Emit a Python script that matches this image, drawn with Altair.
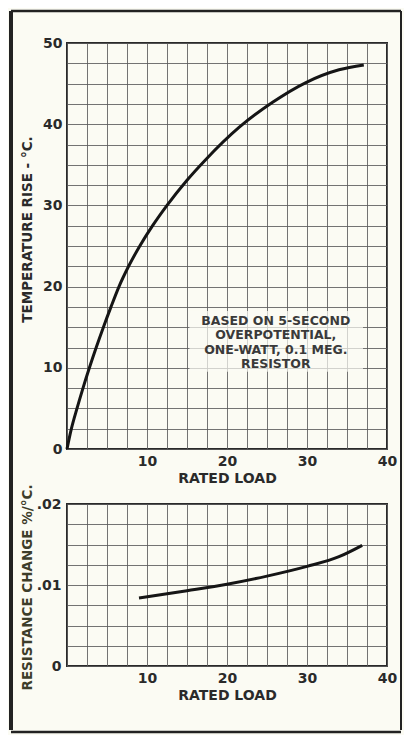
import altair as alt
import pandas as pd

# ---- data ----
load_top = [0, 0.55, 1.25, 2.0, 2.8, 3.65, 4.55, 5.5, 6.5, 7.7, 9.1, 10.7, 12.5, 15, 17.3,
            21.5, 25.7, 29.8, 34, 37.1]
temp_rise = [0, 2.5, 5, 7.5, 10, 12.5, 15, 17.5, 20, 22.5, 25, 27.5, 30, 33.1, 35.6,
             39.6, 42.7, 45.1, 46.7, 47.3]

load_bot = [9, 15, 20, 25, 30, 34, 36.9]
res_change = [0.0084, 0.0093, 0.0101, 0.0111, 0.0123, 0.0135, 0.0149]

x_ticks = [i * 2.5 for i in range(17)]
y_ticks_top = [i * 2.5 for i in range(21)]
y_ticks_bot = [i * 0.0025 for i in range(9)]

note_lines = ["BASED ON 5-SECOND", "OVERPOTENTIAL,", "ONE-WATT, 0.1 MEG.", "RESISTOR"]
note_x = [26.1]
note_y = [15.8]

BG = "#fbfbf3"
INK = "#2a2a2a"
GRID = "#5a5a5a"
FONT = "DejaVu Sans"

W = 320
H1 = 406
H2 = 162

top_df = pd.DataFrame({"load": load_top, "rise": temp_rise})
bot_df = pd.DataFrame({"load": load_bot, "res": res_change})
note_df = pd.DataFrame({"load": note_x, "rise": note_y, "t": ["\n".join(note_lines)]})
one = alt.Data(values=[{"k": 1}])

x_label_expr = "datum.value % 10 == 0 && datum.value > 0 ? datum.label : ''"

def x_axis():
    return alt.Axis(values=x_ticks, labelExpr=x_label_expr, ticks=False, domain=False,
                    grid=True, gridColor=GRID, gridOpacity=0.85, gridWidth=1,
                    labelFont=FONT, labelFontSize=14, labelFontWeight="bold", labelColor=INK,
                    labelPadding=5, title="RATED LOAD", titleFont=FONT, titleFontSize=14,
                    titleFontWeight="bold", titleColor=INK, titlePadding=3, labelFlush=False)

def y_axis_top():
    return alt.Axis(values=y_ticks_top,
                    labelExpr="datum.value % 10 == 0 ? datum.label : ''",
                    ticks=False, domain=False, grid=True, gridColor=GRID, gridOpacity=0.85,
                    gridWidth=1, labelFont=FONT, labelFontSize=14, labelFontWeight="bold",
                    labelColor=INK, labelPadding=5,
                    title="TEMPERATURE RISE - °C.", titleFont=FONT, titleFontSize=13.5,
                    titleFontWeight="bold", titleColor=INK, titleX=-40, titleY=186,
                    titleAlign="center", titleBaseline="middle", titleAngle=270)

x_scale = alt.Scale(domain=[0, 40], nice=False, zero=False)
y_scale_top = alt.Scale(domain=[0, 50], nice=False)

top_line = alt.Chart(top_df).mark_line(color="#151515", strokeWidth=3, interpolate="monotone").encode(
    x=alt.X("load:Q", scale=x_scale, axis=x_axis()),
    y=alt.Y("rise:Q", scale=y_scale_top, axis=y_axis_top()),
)

note_bg = alt.Chart(one).mark_rect(fill=BG, opacity=0.7).encode(
    x=alt.value(8 * 15.3), x2=alt.value(8 * 37.0),
    y=alt.value(H1 - 8.12 * 17.0), y2=alt.value(H1 - 8.12 * 9.5),
)

note = alt.Chart(note_df).mark_text(font=FONT, fontSize=12.5, fontWeight="bold", color="#3a3a3a",
                                    lineBreak="\n", lineHeight=14.5, align="center",
                                    baseline="middle").encode(
    x=alt.X("load:Q", scale=x_scale, axis=x_axis()),
    y=alt.Y("rise:Q", scale=y_scale_top, axis=y_axis_top()),
    text="t:N")

def rule(x1, y1, x2=None, y2=None, sw=2.5):
    enc = dict(x=alt.value(x1), y=alt.value(y1))
    if x2 is not None:
        enc["x2"] = alt.value(x2)
    if y2 is not None:
        enc["y2"] = alt.value(y2)
    return alt.Chart(one).mark_rule(color="#222222", strokeWidth=sw).encode(**enc)

GAP = 55
FL, FR = -56, 334
FT = -32
G1 = 32
top_frame = [
    rule(FL, FT, x2=FR),
    rule(FL, FT, y2=H1 + G1, sw=4),
    rule(FR, FT, y2=H1 + G1, sw=2),
]

top = alt.layer(top_line, note_bg, note, *top_frame).properties(width=W, height=H1)

bot_line = alt.Chart(bot_df).mark_line(color="#151515", strokeWidth=3, interpolate="monotone").encode(
    x=alt.X("load:Q", scale=x_scale, axis=x_axis()),
    y=alt.Y("res:Q", scale=alt.Scale(domain=[0, 0.02], nice=False),
            axis=alt.Axis(values=y_ticks_bot,
                          labelExpr="datum.value < 0.001 ? '0' : (abs(datum.value - 0.01) < 0.0001 ? '.01' : (abs(datum.value - 0.02) < 0.0001 ? '.02' : ''))",
                          ticks=False, domain=False, grid=True, gridColor=GRID, gridOpacity=0.85,
                          gridWidth=1, labelFont=FONT, labelFontSize=14, labelFontWeight="bold",
                          labelColor=INK, labelPadding=6,
                          title="RESISTANCE CHANGE %/°C.", titleFont=FONT, titleFontSize=13.5,
                          titleFontWeight="bold", titleColor="#3d3d2a", titleX=-40, titleY=83,
                          titleAlign="center", titleBaseline="middle", titleAngle=270)),
)

G2 = GAP - G1 + 4
FB = 228
bot_frame = [
    rule(FL, -G2, y2=FB - 2, sw=4),
    rule(FR, -G2, y2=FB - 2, sw=2),
    rule(FL, FB, x2=FR),
]

bot = alt.layer(bot_line, *bot_frame).properties(width=W, height=H2)

chart = alt.vconcat(top, bot, spacing=GAP, bounds="flush").properties(
    background=BG,
    padding={"left": 0, "top": 0, "right": 0, "bottom": 0},
).configure_view(stroke="#2a2a2a", strokeWidth=2)

chart.save("out.html", embed_options={"renderer": "svg", "actions": False})
